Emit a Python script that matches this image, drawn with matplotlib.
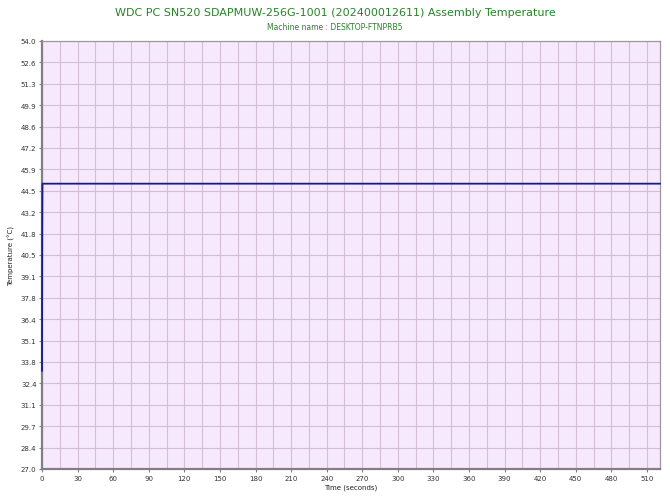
import matplotlib
matplotlib.use("Agg")
import matplotlib.pyplot as plt
import numpy as np

times = [0, 0.2, 0.4, 521]
temps = [33.2, 41.8, 45.0, 45.0]
y_ticks = [27.0, 28.35, 29.7, 31.05, 32.4, 33.75, 35.1, 36.45, 37.8, 39.15, 40.5,
           41.85, 43.2, 44.55, 45.9, 47.25, 48.6, 49.95, 51.3, 52.65, 54.0]
y_labels = ["27.0", "28.4", "29.7", "31.1", "32.4", "33.8", "35.1", "36.4", "37.8", "39.1", "40.5",
            "41.8", "43.2", "44.5", "45.9", "47.2", "48.6", "49.9", "51.3", "52.6", "54.0"]
x_ticks = list(range(0, 511, 30))
x_minor = list(range(15, 521, 30))

fig = plt.figure(figsize=(6.7, 5.02), dpi=100)
ax = fig.add_axes([42/670, 1-470/502, (660-42)/670, (470-42)/502])
ax.set_facecolor("#F6E9FE")
ax.set_xlim(0, 521)
ax.set_ylim(27.0, 54.0)
ax.set_yticks(y_ticks)
ax.set_yticklabels(y_labels)
ax.set_xticks(x_ticks)
ax.set_xticks(x_minor, minor=True)
ax.grid(True, which="both", color="#D2C0D2", linewidth=0.8)
ax.set_axisbelow(True)
ax.tick_params(axis="both", which="major", labelsize=5, length=2, color="#808080", labelcolor="#333333", pad=2)
ax.tick_params(axis="x", which="minor", length=0)
for s in ax.spines.values():
    s.set_color("#9A9A9A")
    s.set_linewidth(0.9)
ax.spines["left"].set_linewidth(1.6)
ax.spines["bottom"].set_linewidth(1.6)
ax.spines["left"].set_color("#808080")
ax.spines["bottom"].set_color("#808080")

ax.plot(times, temps, color="#1A1A8C", linewidth=1.3, clip_on=False, zorder=5)

ax.set_xlabel("Time (seconds)", fontsize=5, color="#222222", labelpad=2)
ax.set_ylabel("Temperature (°C)", fontsize=5, color="#222222", labelpad=4)

fig.text(0.5, 1-13/502, "WDC PC SN520 SDAPMUW-256G-1001 (202400012611) Assembly Temperature",
         ha="center", va="center", fontsize=8, color="#2A822A")
fig.text(0.5, 1-27/502, "Machine name : DESKTOP-FTNPRB5",
         ha="center", va="center", fontsize=5.5, color="#2A822A")

fig.savefig("out.png", dpi=100)
